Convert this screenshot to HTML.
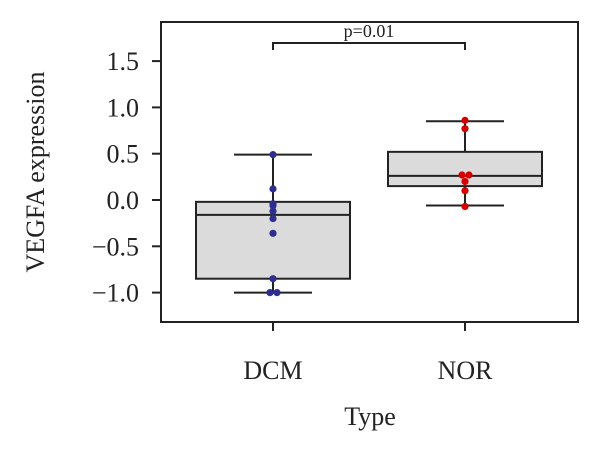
<!DOCTYPE html>
<html><head><meta charset="utf-8"><style>
html,body{margin:0;padding:0;background:#fff;width:600px;height:455px;overflow:hidden}
text{font-family:"Liberation Serif",serif;fill:#222}
</style></head><body>
<svg id="chart" width="600" height="455" xmlns="http://www.w3.org/2000/svg"></svg>
<script>
const categories = ["DCM", "NOR"];
const boxQ1 = [-0.85, 0.15];
const boxMedian = [-0.16, 0.26];
const boxQ3 = [-0.02, 0.52];
const whiskerLow = [-1.0, -0.06];
const whiskerHigh = [0.49, 0.85];
const pointsDCM = [0.49, 0.12, -0.04, -0.06, -0.12, -0.2, -0.36, -0.85, -1.0, -1.0];
const pointsNOR = [0.86, 0.77, 0.27, 0.27, 0.2, 0.1, -0.07];
const yTicks = [1.5, 1.0, 0.5, 0.0, -0.5, -1.0];
const yTickLabels = ["1.5", "1.0", "0.5", "0.0", "\u22120.5", "\u22121.0"];
const pLabel = "p=0.01";

const svg = document.getElementById('chart');
const NS = 'http://www.w3.org/2000/svg';
const L = 161, R = 578, T = 22, B = 322;
const y = v => 200 - v * 92.6;
const xc = i => 273 + i * 192;
function mk(tag, attrs, parent) {
  const e = document.createElementNS(NS, tag);
  for (const k in attrs) e.setAttribute(k, attrs[k]);
  (parent || svg).appendChild(e);
  return e;
}
const frame = mk('rect', {x: L, y: T, width: R - L, height: B - T, fill: 'none', stroke: '#222', 'stroke-width': 2});



yTicks.forEach((v, i) => {
  const g = mk('g', {});
  
  
  mk('line', {x1: L - 9, x2: L, y1: y(v), y2: y(v), stroke: '#222', 'stroke-width': 2}, g);
  const t = mk('text', {x: L - 22, y: y(v) + 9, 'text-anchor': 'end', 'font-size': 26}, g);
  t.textContent = yTickLabels[i];
});

categories.forEach((c, i) => {
  const g = mk('g', {});
  
  
  const cx = xc(i);
  mk('line', {x1: cx, x2: cx, y1: y(whiskerHigh[i]), y2: y(boxQ3[i]), stroke: '#222', 'stroke-width': 2}, g);
  mk('line', {x1: cx, x2: cx, y1: y(boxQ1[i]), y2: y(whiskerLow[i]), stroke: '#222', 'stroke-width': 2}, g);
  mk('line', {x1: cx - 39, x2: cx + 39, y1: y(whiskerHigh[i]), y2: y(whiskerHigh[i]), stroke: '#222', 'stroke-width': 2}, g);
  mk('line', {x1: cx - 39, x2: cx + 39, y1: y(whiskerLow[i]), y2: y(whiskerLow[i]), stroke: '#222', 'stroke-width': 2}, g);
  mk('rect', {x: cx - 77, y: y(boxQ3[i]), width: 154, height: y(boxQ1[i]) - y(boxQ3[i]), fill: '#dcdbdc', stroke: '#222', 'stroke-width': 2}, g);
  mk('line', {x1: cx - 77, x2: cx + 77, y1: y(boxMedian[i]), y2: y(boxMedian[i]), stroke: '#222', 'stroke-width': 2}, g);
  const tk = mk('line', {x1: cx, x2: cx, y1: B, y2: B + 9, stroke: '#222', 'stroke-width': 2});
  
  
  const lab = mk('text', {x: cx, y: 379, 'text-anchor': 'middle', 'font-size': 26});
  
  
  lab.textContent = c;
});

function drawPoints(arr, i, color, name) {
  const seen = {};
  arr.forEach(v => {
    const key = v.toFixed(2);
    const n = seen[key] || 0; seen[key] = n + 1;
    const c = mk('circle', {cx: xc(i) + (n ? (n % 2 ? 7 : -7) : 0) - (arr.filter(w => w.toFixed(2) === key).length > 1 ? 3 : 0), cy: y(v), r: 3.6, fill: color});
    
    
  });
}
drawPoints(pointsDCM, 0, '#2e2e8f', 'point-dcm');
drawPoints(pointsNOR, 1, '#d40000', 'point-nor');

const br = mk('path', {d: `M${xc(0)} 50 V43 H${xc(1)} V50`, fill: 'none', stroke: '#222', 'stroke-width': 2});


const pt = mk('text', {x: (xc(0) + xc(1)) / 2, y: 37, 'text-anchor': 'middle', 'font-size': 18});


pt.textContent = pLabel;

const xt = mk('text', {x: 370, y: 425, 'text-anchor': 'middle', 'font-size': 26});


xt.textContent = 'Type';
const yt = mk('text', {x: 0, y: 0, 'text-anchor': 'middle', 'font-size': 26, transform: 'translate(44,172) rotate(-90)'});


yt.textContent = 'VEGFA expression';
</script>
</body></html>
